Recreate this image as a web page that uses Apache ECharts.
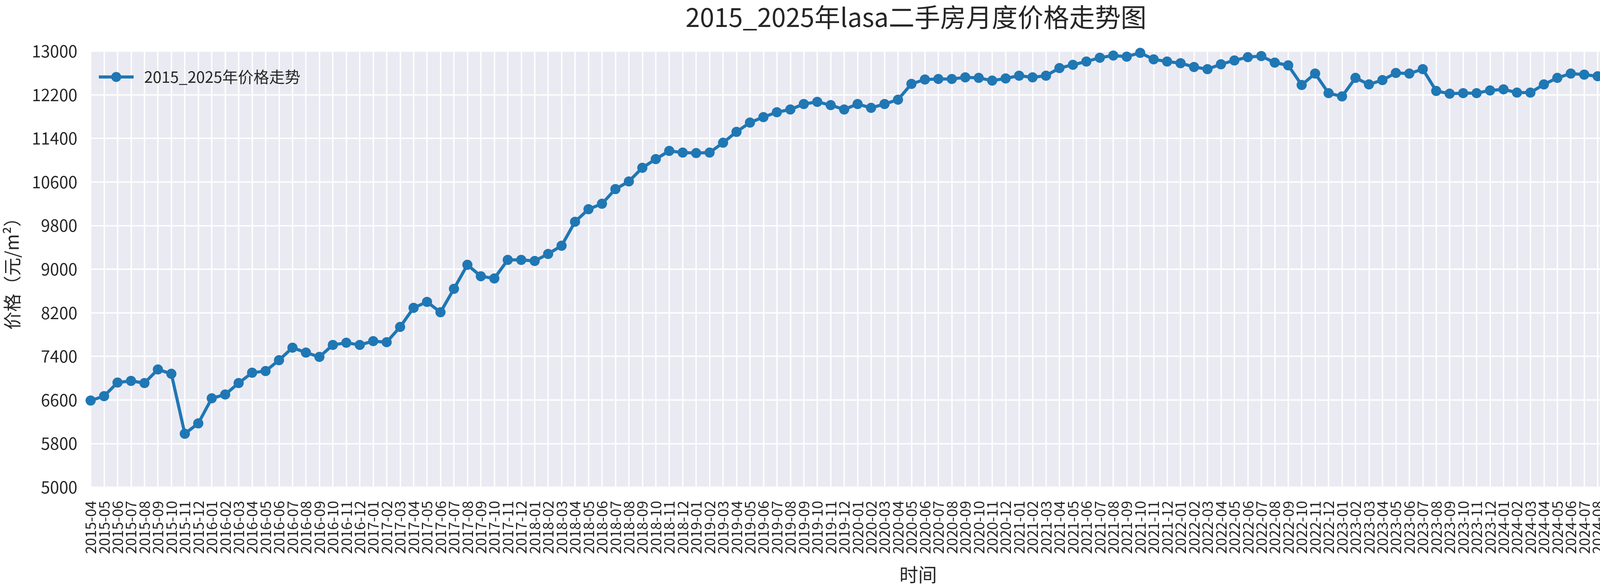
<!DOCTYPE html>
<html lang="zh">
<head>
    <meta charset="utf-8">
    <script src="https://cdn.jsdelivr.net/npm/echarts@6/dist/echarts.min.js"></script>
    <style>
        body {
            margin: 0;
            background: #fff;
        }
        #main {
            width: 4500px;
            height: 1500px;
        }
    </style>
</head>
<body>
<div id="main"></div>

<script>
    // month labels, one row per year
    var months = [
        '2015-04', '2015-05', '2015-06', '2015-07', '2015-08', '2015-09', '2015-10', '2015-11', '2015-12',
        '2016-01', '2016-02', '2016-03', '2016-04', '2016-05', '2016-06', '2016-07', '2016-08', '2016-09', '2016-10', '2016-11', '2016-12',
        '2017-01', '2017-02', '2017-03', '2017-04', '2017-05', '2017-06', '2017-07', '2017-08', '2017-09', '2017-10', '2017-11', '2017-12',
        '2018-01', '2018-02', '2018-03', '2018-04', '2018-05', '2018-06', '2018-07', '2018-08', '2018-09', '2018-10', '2018-11', '2018-12',
        '2019-01', '2019-02', '2019-03', '2019-04', '2019-05', '2019-06', '2019-07', '2019-08', '2019-09', '2019-10', '2019-11', '2019-12',
        '2020-01', '2020-02', '2020-03', '2020-04', '2020-05', '2020-06', '2020-07', '2020-08', '2020-09', '2020-10', '2020-11', '2020-12',
        '2021-01', '2021-02', '2021-03', '2021-04', '2021-05', '2021-06', '2021-07', '2021-08', '2021-09', '2021-10', '2021-11', '2021-12',
        '2022-01', '2022-02', '2022-03', '2022-04', '2022-05', '2022-06', '2022-07', '2022-08', '2022-09', '2022-10', '2022-11', '2022-12',
        '2023-01', '2023-02', '2023-03', '2023-04', '2023-05', '2023-06', '2023-07', '2023-08', '2023-09', '2023-10', '2023-11', '2023-12',
        '2024-01', '2024-02', '2024-03', '2024-04', '2024-05', '2024-06', '2024-07', '2024-08', '2024-09', '2024-10', '2024-11', '2024-12',
        '2025-01', '2025-02', '2025-03', '2025-04', '2025-05', '2025-06', '2025-07'
    ];

    // price per m2
    var prices = [
        6590, 6670, 6920, 6950, 6910, 7160, 7080, 5980, 6170,
        6630, 6700, 6910, 7100, 7130, 7330, 7560, 7470, 7390, 7610, 7650, 7610,
        7680, 7660, 7940, 8290, 8400, 8210, 8640, 9080, 8870, 8830, 9170, 9170,
        9150, 9280, 9430, 9870, 10100, 10200, 10470, 10610, 10860, 11020, 11170, 11140,
        11130, 11140, 11320, 11520, 11690, 11790, 11880, 11930, 12030, 12070, 12010, 11930,
        12030, 11960, 12030, 12110, 12400, 12480, 12490, 12490, 12520, 12510, 12460, 12500,
        12550, 12520, 12550, 12690, 12750, 12810, 12880, 12920, 12900, 12970, 12850, 12810,
        12780, 12710, 12670, 12760, 12830, 12890, 12910, 12790, 12740, 12380, 12590, 12230,
        12170, 12510, 12390, 12470, 12600, 12590, 12670, 12270, 12220, 12230, 12230, 12280,
        12300, 12240, 12240, 12390, 12510, 12590, 12570, 12540, 12600, 12650, 12780, 12700,
        12490, 12500, 12420, 12600, 12530, 12740, 12680
    ];

    var yMin = 5000;
    var yMax = 13000;
    var yStep = 800;

    var font = '"Noto Sans CJK SC", "DejaVu Sans", sans-serif';
    var ink = '#262626';
    var blue = '#1f77b4';

    var chart = echarts.init(document.getElementById('main'), null, {renderer: 'canvas'});

    chart.setOption({
        animation: false,
        textStyle: {fontFamily: font, color: ink},
        title: {
            text: '2015_2025年lasa二手房月度价格走势图',
            left: 2340,
            textAlign: 'center',
            top: 6,
            textStyle: {fontSize: 66, fontWeight: 'normal', color: ink, fontFamily: font}
        },
        legend: {
            left: 244,
            top: 172,
            itemWidth: 89,
            itemHeight: 32,
            data: ['2015_2025年价格走势'],
            lineStyle: {width: 8},
            textStyle: {fontSize: 40, color: ink, fontFamily: font, padding: [0, 0, 0, 22]}
        },
        grid: {
            left: 210,
            right: 31,
            top: 131,
            bottom: 238,
            show: true,
            backgroundColor: '#eaeaf2',
            borderWidth: 0
        },
        xAxis: {
            type: 'category',
            data: months,
            boundaryGap: false,
            name: '时间',
            nameLocation: 'middle',
            nameGap: 200,
            nameTextStyle: {fontSize: 48, color: ink, fontFamily: font},
            axisLine: {show: false},
            axisTick: {show: false},
            axisLabel: {
                interval: 0,
                rotate: 90,
                margin: 35,
                fontSize: 37,
                color: ink,
                fontFamily: font
            },
            splitLine: {show: true, interval: 0, lineStyle: {color: '#fff', width: 3.5}}
        },
        yAxis: {
            type: 'value',
            min: yMin,
            max: yMax,
            interval: yStep,
            name: '价格（元/m²）',
            nameLocation: 'middle',
            nameRotate: 90,
            nameGap: 178,
            nameTextStyle: {fontSize: 46, color: ink, fontFamily: font},
            axisLine: {show: false},
            axisTick: {show: false},
            axisLabel: {
                margin: 34,
                fontSize: 42,
                color: ink,
                fontFamily: font,
                formatter: function (v) { return String(v); }
            },
            splitLine: {show: true, lineStyle: {color: '#fff', width: 3.5}}
        },
        series: [{
            name: '2015_2025年价格走势',
            type: 'line',
            data: prices,
            symbol: 'circle',
            symbolSize: 26,
            showAllSymbol: true,
            clip: false,
            lineStyle: {color: blue, width: 8},
            itemStyle: {color: blue}
        }]
    });
</script>
</body>
</html>
